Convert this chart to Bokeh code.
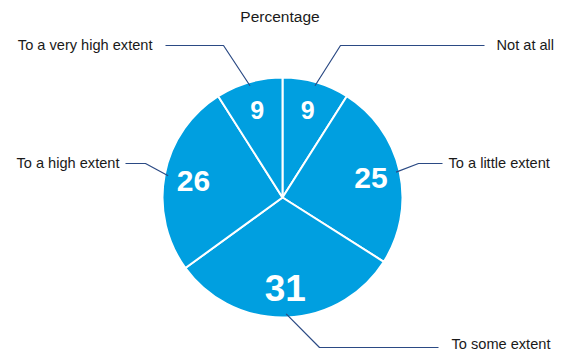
import math
from bokeh.plotting import figure
from bokeh.models import ColumnDataSource, Range1d
from bokeh.embed import file_html
from bokeh.resources import INLINE
from bokeh.core.properties import value

# ---- data ----
categories = ["Not at all", "To a little extent", "To some extent",
              "To a high extent", "To a very high extent"]
percentages = [9, 25, 31, 26, 9]
chart_title = "Percentage"

# ---- layout / style ----
W, H = 565, 353
CX, CY, R = 282, 197, 120          # pie centre (pixels from top-left) and radius
FILL = "#009FE0"
LEADER_COLOR = "#2b4a84"
TEXT_COLOR = "#1a1a1a"
FONT = "Liberation Sans"
NUM_SIZES = ["25px", "30px", "37px", "30px", "25px"]
# elbow x, elbow y, end x, label x, label y, label align  (pixels from top-left)
LEADERS = [
    (340, 45, 484, 496, 44, "left"),
    (418, 163, 442, 448, 162, "left"),
    (319, 347, 438, 451, 343, "left"),
    (145, 163, 125, 119, 162, "right"),
    (223, 45, 165, 152, 44, "right"),
]


def fy(y):
    return H - y


p = figure(width=W, height=H, output_backend="svg", toolbar_location=None,
           x_range=Range1d(0, W), y_range=Range1d(0, H),
           x_axis_type=None, y_axis_type=None, min_border=0,
           outline_line_color=None, background_fill_color="white",
           border_fill_color="white")
p.grid.visible = False

total = float(sum(percentages))
starts, ends, mids = [], [], []
cum = 0.0
for v in percentages:
    a0 = math.pi / 2 - 2 * math.pi * cum / total
    cum += v
    a1 = math.pi / 2 - 2 * math.pi * cum / total
    starts.append(a0)
    ends.append(a1)
    mids.append((a0 + a1) / 2)

src = ColumnDataSource(dict(cat=categories, val=percentages,
                            start=starts, end=ends))
p.wedge(x=CX, y=fy(CY), radius=R, start_angle="start", end_angle="end",
        direction="clock", fill_color=FILL, line_color="white",
        line_width=2, source=src)

# value labels inside slices
lab_r = 0.755 * R
num_src = ColumnDataSource(dict(
    x=[CX + lab_r * math.cos(m) for m in mids],
    y=[fy(CY) + lab_r * math.sin(m) for m in mids],
    t=[str(v) for v in percentages],
    s=NUM_SIZES,
))
p.text(x="x", y="y", text="t", source=num_src, text_font=value(FONT),
       text_font_style="bold", text_font_size="s", text_color="white",
       text_align="center", text_baseline="middle")

# leader lines and category labels
xs, ys = [], []
start_r = 0.97 * R
for m, cat, (ex, ey, endx, tx, ty, al) in zip(mids, categories, LEADERS):
    sx = CX + start_r * math.cos(m)
    sy = fy(CY) + start_r * math.sin(m)
    xs.append([sx, ex, endx])
    ys.append([sy, fy(ey), fy(ey)])
    p.text(x=[tx], y=[fy(ty)], text=[cat], text_font=value(FONT),
           text_font_size="14.6px", text_color=TEXT_COLOR,
           text_align=al, text_baseline="middle")

p.multi_line(xs=xs, ys=ys, line_color=LEADER_COLOR, line_width=1.2)

# title
p.text(x=[279.5], y=[fy(16)], text=[chart_title], text_font=value(FONT),
       text_font_size="15.5px", text_color=TEXT_COLOR,
       text_align="center", text_baseline="middle")

open("out.html", "w").write(file_html(p, INLINE))
